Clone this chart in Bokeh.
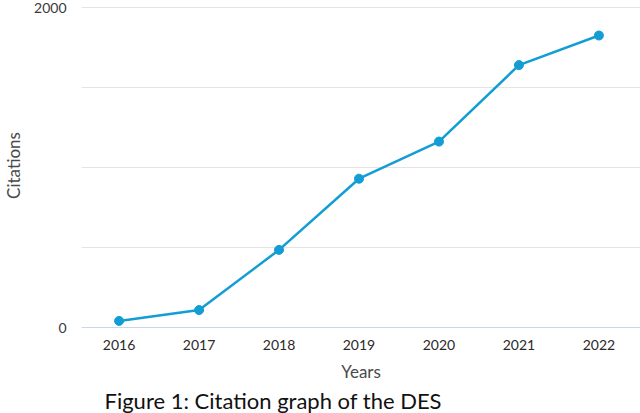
from bokeh.plotting import figure
from bokeh.models import Range1d, FixedTicker, Title, ColumnDataSource
from bokeh.embed import file_html
from bokeh.resources import INLINE

years = [2016, 2017, 2018, 2019, 2020, 2021, 2022]
citations = [41, 109, 485, 930, 1162, 1640, 1825]
y_ticks = [0, 500, 1000, 1500, 2000]
y_hidden = {500: "", 1000: "", 1500: ""}
caption = "Figure 1: Citation graph of the DES"

FONT = "Lato"
LINE = "#129dd4"

src = ColumnDataSource(dict(x=years, y=citations))

p = figure(width=640, height=413, output_backend="svg", toolbar_location=None,
           x_range=Range1d(2015.53, 2022.52), y_range=Range1d(0, 2025),
           min_border_left=75, min_border_right=0, min_border_top=3,
           min_border_bottom=84)
p.outline_line_color = None
p.background_fill_color = "white"
p.border_fill_color = "white"

p.line("x", "y", source=src, line_color=LINE, line_width=2.5)
p.scatter("x", "y", source=src, size=9, fill_color=LINE, line_color=LINE)

# y axis
p.yaxis.ticker = FixedTicker(ticks=y_ticks)
p.yaxis.major_label_overrides = y_hidden
p.yaxis.axis_line_color = None
p.yaxis.major_tick_line_color = None
p.yaxis.major_tick_out = 0
p.yaxis.major_tick_in = 0
p.yaxis.minor_tick_line_color = None
p.yaxis.minor_tick_out = 0
p.yaxis.major_label_standoff = 15
p.yaxis.major_label_text_font = FONT
p.yaxis.major_label_text_font_size = "14px"
p.yaxis.major_label_text_color = "#3a3a3a"
p.yaxis.axis_label = "Citations"
p.yaxis.axis_label_text_font = FONT
p.yaxis.axis_label_text_font_style = "normal"
p.yaxis.axis_label_text_font_size = "17px"
p.yaxis.axis_label_text_color = "#4a4a4a"
p.yaxis.axis_label_standoff = 7
p.ygrid.grid_line_color = "#e4e4e4"
p.ygrid.grid_line_width = 1

# x axis
p.xaxis.ticker = FixedTicker(ticks=years)
p.xaxis.axis_line_color = "#ccd6eb"
p.xaxis.axis_line_width = 1
p.xaxis.major_tick_line_color = None
p.xaxis.major_tick_out = 0
p.xaxis.major_tick_in = 0
p.xaxis.minor_tick_line_color = None
p.xaxis.minor_tick_out = 0
p.xaxis.major_label_standoff = 12
p.xaxis.major_label_text_font = FONT
p.xaxis.major_label_text_font_size = "14px"
p.xaxis.major_label_text_color = "#2a2a2a"
p.xaxis.axis_label = "Years"
p.xaxis.axis_label_text_font = FONT
p.xaxis.axis_label_text_font_style = "normal"
p.xaxis.axis_label_text_font_size = "17px"
p.xaxis.axis_label_text_color = "#4a4a4a"
p.xaxis.axis_label_standoff = 8
p.xgrid.grid_line_color = None

cap = Title(text=caption, align="left", offset=23, standoff=0,
            text_font=FONT, text_font_size="22px", text_font_style="normal",
            text_color="#111111")
p.add_layout(cap, "below")

open("out.html", "w").write(file_html(p, INLINE))
